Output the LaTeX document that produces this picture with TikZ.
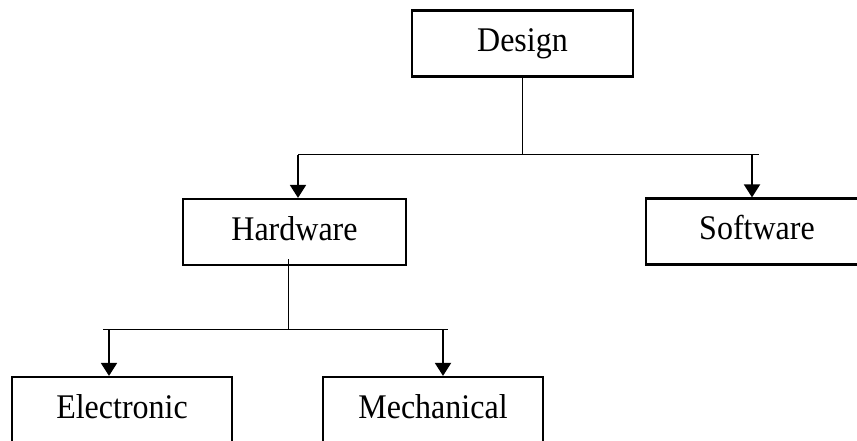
\documentclass[tikz,border=0pt]{standalone}
\usepackage{fontspec}
\setmainfont{Liberation Serif}
\usetikzlibrary{arrows.meta,calc}
\newcommand\vstretch[1]{\scalebox{1}[1.08]{#1}}
\begin{document}
\begin{tikzpicture}[x=1pt,y=-1pt,
  box/.style={draw, line width=2.2pt, minimum width=221pt, minimum height=66pt,
    inner sep=0pt, text height=22pt, text depth=6pt,
    font=\fontsize{32}{36}\selectfont},
  thin/.style={line width=1pt},
  arr/.style={line width=1.9pt, -{Triangle[width=16pt,length=13pt]}}]
\useasboundingbox (0,0) rectangle (857,441);
\clip (0,0) rectangle (857,441);
\node[box] (design) at (522.5,43.5) {\vstretch{Design}};
\node[box, minimum width=223pt] (hw) at (294.5,232) {\vstretch{Hardware}};
\node[box, minimum width=222pt] (sw) at (757,231.5) {\vstretch{Software}};
\node[box, minimum width=220pt] (el) at (122,410) {\vstretch{Electronic}};
\node[box, minimum width=220pt] (me) at (433,410) {\vstretch{Mechanical}};
% Design branch
\coordinate (dj) at (522,155);
\coordinate (dl) at (298,155);
\coordinate (dr) at (759,155);
\coordinate (ds) at (752,155);
\draw[thin] (design.south -| dj) -- (dj);
\draw[thin] (dl) -- (dr);
\draw[arr] (dl) -- (hw.north -| dl);
\draw[arr] (ds) -- (sw.north -| ds);
% Hardware branch
\coordinate (ht) at (288,259);
\coordinate (hj) at (288,329);
\coordinate (hl) at (103,329);
\coordinate (hr) at (448,329);
\coordinate (ha) at (109,329);
\coordinate (hb) at (443,329);
\draw[thin] (ht) -- (hj);
\draw[thin] (hl) -- (hr);
\draw[arr] (ha) -- (el.north -| ha);
\draw[arr] (hb) -- (me.north -| hb);
\end{tikzpicture}
\end{document}
